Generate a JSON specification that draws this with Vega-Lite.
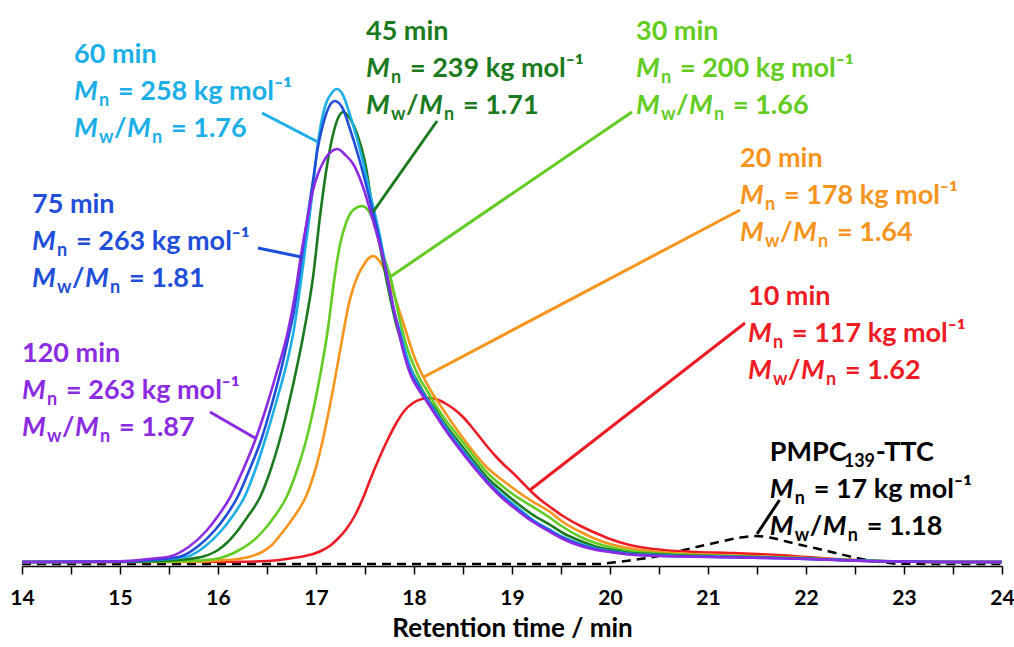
{
"$schema": "https://vega.github.io/schema/vega-lite/v6.json",
"width": 980, "height": 560,
"autosize": {"type": "none"},
"padding": {"left": 22, "top": 6, "right": 12, "bottom": 81},
"background": "white",
"config": {"view": {"stroke": null}, "font": "Lato",
 "axis": {"labelFont": "Lato", "labelFontWeight": "bold", "labelFontSize": 21, "labelColor": "#000", "titleFont": "Lato", "titleFontSize": 26, "titleFontWeight": "bold", "titleColor": "#000", "domainColor": "#000", "domainWidth": 1.5, "tickColor": "#000", "tickWidth": 1.5, "tickSize": 8, "grid": false}},
"datasets": {
"pmpc": [
{"x":14,"y":-2},{"x":19.9,"y":-2},{"x":20.03,"y":-0.5},{"x":20.2,"y":1.5},{"x":20.44,"y":5},{"x":20.6,"y":8.5},{"x":20.78,"y":12.5},{"x":20.95,"y":16.5},{"x":21.16,"y":21},{"x":21.33,"y":24.5},{"x":21.48,"y":26},{"x":21.63,"y":24.5},{"x":21.8,"y":20.5},{"x":21.95,"y":17},{"x":22.11,"y":13.5},{"x":22.3,"y":9},{"x":22.45,"y":5.5},{"x":22.62,"y":2},{"x":22.8,"y":-0.5},{"x":22.95,"y":-1.8},{"x":24,"y":-2}
],
"curves": [
{"s":"10 min","x":14,"y":0},{"s":"10 min","x":16.3,"y":0.3},{"s":"10 min","x":16.5,"y":1},{"s":"10 min","x":16.63,"y":2},{"s":"10 min","x":16.8,"y":4.5},{"s":"10 min","x":16.9,"y":6.3},{"s":"10 min","x":16.97,"y":8},{"s":"10 min","x":17.06,"y":11.5},{"s":"10 min","x":17.14,"y":16},{"s":"10 min","x":17.22,"y":23},{"s":"10 min","x":17.31,"y":33},{"s":"10 min","x":17.4,"y":47},{"s":"10 min","x":17.48,"y":64},{"s":"10 min","x":17.56,"y":84},{"s":"10 min","x":17.65,"y":105},{"s":"10 min","x":17.73,"y":122},{"s":"10 min","x":17.82,"y":139},{"s":"10 min","x":17.9,"y":151},{"s":"10 min","x":17.99,"y":159},{"s":"10 min","x":18.08,"y":163},{"s":"10 min","x":18.16,"y":164},{"s":"10 min","x":18.25,"y":162},{"s":"10 min","x":18.33,"y":158},{"s":"10 min","x":18.42,"y":152},{"s":"10 min","x":18.5,"y":145},{"s":"10 min","x":18.58,"y":136},{"s":"10 min","x":18.67,"y":125},{"s":"10 min","x":18.76,"y":114},{"s":"10 min","x":18.84,"y":105},{"s":"10 min","x":18.92,"y":97},{"s":"10 min","x":19.01,"y":89},{"s":"10 min","x":19.1,"y":80},{"s":"10 min","x":19.18,"y":72},{"s":"10 min","x":19.28,"y":63},{"s":"10 min","x":19.39,"y":55},{"s":"10 min","x":19.52,"y":46},{"s":"10 min","x":19.7,"y":36},{"s":"10 min","x":19.86,"y":28.7},{"s":"10 min","x":20.0,"y":23},{"s":"10 min","x":20.2,"y":17},{"s":"10 min","x":20.54,"y":12},{"s":"10 min","x":20.88,"y":10},{"s":"10 min","x":21.22,"y":9},{"s":"10 min","x":21.5,"y":8},{"s":"10 min","x":21.73,"y":7},{"s":"10 min","x":22.0,"y":5},{"s":"10 min","x":22.3,"y":3},{"s":"10 min","x":22.6,"y":1.5},{"s":"10 min","x":23.0,"y":0.5},{"s":"10 min","x":23.5,"y":0},{"s":"10 min","x":24,"y":0},
{"s":"20 min","x":14,"y":0},{"s":"20 min","x":15.8,"y":0.3},{"s":"20 min","x":16.0,"y":1.5},{"s":"20 min","x":16.2,"y":3},{"s":"20 min","x":16.33,"y":5.5},{"s":"20 min","x":16.45,"y":10},{"s":"20 min","x":16.55,"y":17},{"s":"20 min","x":16.66,"y":30},{"s":"20 min","x":16.78,"y":46},{"s":"20 min","x":16.9,"y":66},{"s":"20 min","x":16.98,"y":88},{"s":"20 min","x":17.06,"y":118},{"s":"20 min","x":17.18,"y":176},{"s":"20 min","x":17.28,"y":230},{"s":"20 min","x":17.33,"y":256},{"s":"20 min","x":17.38,"y":274},{"s":"20 min","x":17.43,"y":287},{"s":"20 min","x":17.48,"y":296},{"s":"20 min","x":17.53,"y":303},{"s":"20 min","x":17.58,"y":306},{"s":"20 min","x":17.64,"y":302},{"s":"20 min","x":17.7,"y":292},{"s":"20 min","x":17.79,"y":269},{"s":"20 min","x":17.86,"y":248},{"s":"20 min","x":17.91,"y":233},{"s":"20 min","x":18.0,"y":206},{"s":"20 min","x":18.09,"y":186},{"s":"20 min","x":18.18,"y":170},{"s":"20 min","x":18.3,"y":152},{"s":"20 min","x":18.44,"y":132},{"s":"20 min","x":18.6,"y":111},{"s":"20 min","x":18.74,"y":95},{"s":"20 min","x":18.9,"y":82},{"s":"20 min","x":19.05,"y":71},{"s":"20 min","x":19.2,"y":61},{"s":"20 min","x":19.39,"y":50},{"s":"20 min","x":19.52,"y":40},{"s":"20 min","x":19.7,"y":30},{"s":"20 min","x":19.86,"y":22.7},{"s":"20 min","x":20.0,"y":18},{"s":"20 min","x":20.2,"y":13.7},{"s":"20 min","x":20.5,"y":10},{"s":"20 min","x":20.71,"y":8.5},{"s":"20 min","x":21.0,"y":7.3},{"s":"20 min","x":21.3,"y":6.3},{"s":"20 min","x":21.73,"y":5},{"s":"20 min","x":22.0,"y":4},{"s":"20 min","x":22.3,"y":2.6},{"s":"20 min","x":22.6,"y":1.4},{"s":"20 min","x":23.0,"y":0.5},{"s":"20 min","x":23.5,"y":0},{"s":"20 min","x":24,"y":0},
{"s":"30 min","x":14,"y":0},{"s":"30 min","x":15.5,"y":0.3},{"s":"30 min","x":15.8,"y":1.5},{"s":"30 min","x":16.0,"y":3.5},{"s":"30 min","x":16.1,"y":6.5},{"s":"30 min","x":16.2,"y":11},{"s":"30 min","x":16.3,"y":17},{"s":"30 min","x":16.38,"y":23},{"s":"30 min","x":16.46,"y":31},{"s":"30 min","x":16.58,"y":46},{"s":"30 min","x":16.7,"y":65},{"s":"30 min","x":16.8,"y":90},{"s":"30 min","x":16.9,"y":122},{"s":"30 min","x":17.02,"y":175},{"s":"30 min","x":17.12,"y":232},{"s":"30 min","x":17.19,"y":285},{"s":"30 min","x":17.24,"y":315},{"s":"30 min","x":17.31,"y":340},{"s":"30 min","x":17.38,"y":352},{"s":"30 min","x":17.47,"y":356},{"s":"30 min","x":17.53,"y":352},{"s":"30 min","x":17.58,"y":343},{"s":"30 min","x":17.64,"y":325},{"s":"30 min","x":17.69,"y":306},{"s":"30 min","x":17.76,"y":285},{"s":"30 min","x":17.86,"y":240},{"s":"30 min","x":17.93,"y":214},{"s":"30 min","x":18.0,"y":196},{"s":"30 min","x":18.06,"y":183},{"s":"30 min","x":18.13,"y":172},{"s":"30 min","x":18.2,"y":160},{"s":"30 min","x":18.3,"y":145},{"s":"30 min","x":18.44,"y":127},{"s":"30 min","x":18.6,"y":107},{"s":"30 min","x":18.74,"y":90},{"s":"30 min","x":18.9,"y":76},{"s":"30 min","x":19.05,"y":65},{"s":"30 min","x":19.2,"y":56},{"s":"30 min","x":19.39,"y":44},{"s":"30 min","x":19.52,"y":35},{"s":"30 min","x":19.7,"y":25},{"s":"30 min","x":19.86,"y":18.7},{"s":"30 min","x":20.0,"y":15},{"s":"30 min","x":20.2,"y":11.3},{"s":"30 min","x":20.5,"y":8.5},{"s":"30 min","x":20.71,"y":7.5},{"s":"30 min","x":21.0,"y":6.5},{"s":"30 min","x":21.3,"y":5.7},{"s":"30 min","x":21.73,"y":4.5},{"s":"30 min","x":22.0,"y":3.6},{"s":"30 min","x":22.3,"y":2.4},{"s":"30 min","x":22.6,"y":1.3},{"s":"30 min","x":23.0,"y":0.5},{"s":"30 min","x":23.5,"y":0},{"s":"30 min","x":24,"y":0},
{"s":"45 min","x":14,"y":0},{"s":"45 min","x":15.2,"y":0.3},{"s":"45 min","x":15.5,"y":1.5},{"s":"45 min","x":15.7,"y":3},{"s":"45 min","x":15.85,"y":5.5},{"s":"45 min","x":16.0,"y":12},{"s":"45 min","x":16.1,"y":20},{"s":"45 min","x":16.19,"y":30},{"s":"45 min","x":16.3,"y":45},{"s":"45 min","x":16.43,"y":65},{"s":"45 min","x":16.53,"y":90},{"s":"45 min","x":16.63,"y":122},{"s":"45 min","x":16.75,"y":170},{"s":"45 min","x":16.88,"y":232},{"s":"45 min","x":16.97,"y":285},{"s":"45 min","x":17.04,"y":345},{"s":"45 min","x":17.11,"y":395},{"s":"45 min","x":17.18,"y":430},{"s":"45 min","x":17.23,"y":445},{"s":"45 min","x":17.28,"y":450},{"s":"45 min","x":17.35,"y":443},{"s":"45 min","x":17.42,"y":428},{"s":"45 min","x":17.5,"y":400},{"s":"45 min","x":17.58,"y":352},{"s":"45 min","x":17.66,"y":312},{"s":"45 min","x":17.74,"y":272},{"s":"45 min","x":17.82,"y":237},{"s":"45 min","x":17.9,"y":212},{"s":"45 min","x":17.97,"y":193},{"s":"45 min","x":18.05,"y":178},{"s":"45 min","x":18.12,"y":166},{"s":"45 min","x":18.2,"y":155},{"s":"45 min","x":18.3,"y":140},{"s":"45 min","x":18.44,"y":122},{"s":"45 min","x":18.6,"y":102},{"s":"45 min","x":18.74,"y":85},{"s":"45 min","x":18.9,"y":71},{"s":"45 min","x":19.05,"y":59},{"s":"45 min","x":19.2,"y":48},{"s":"45 min","x":19.39,"y":37},{"s":"45 min","x":19.52,"y":29},{"s":"45 min","x":19.7,"y":21},{"s":"45 min","x":19.86,"y":15.3},{"s":"45 min","x":20.0,"y":12.5},{"s":"45 min","x":20.2,"y":9.3},{"s":"45 min","x":20.5,"y":7.5},{"s":"45 min","x":20.71,"y":6.5},{"s":"45 min","x":21.0,"y":6},{"s":"45 min","x":21.3,"y":5.3},{"s":"45 min","x":21.73,"y":4.3},{"s":"45 min","x":22.0,"y":3.5},{"s":"45 min","x":22.3,"y":2.3},{"s":"45 min","x":22.6,"y":1.2},{"s":"45 min","x":23.0,"y":0.5},{"s":"45 min","x":23.5,"y":0},{"s":"45 min","x":24,"y":0},
{"s":"60 min","x":14,"y":0},{"s":"60 min","x":15.0,"y":0.3},{"s":"60 min","x":15.35,"y":2},{"s":"60 min","x":15.68,"y":5.3},{"s":"60 min","x":15.86,"y":15},{"s":"60 min","x":16.04,"y":32},{"s":"60 min","x":16.15,"y":46},{"s":"60 min","x":16.27,"y":65},{"s":"60 min","x":16.38,"y":92},{"s":"60 min","x":16.48,"y":122},{"s":"60 min","x":16.6,"y":162},{"s":"60 min","x":16.7,"y":198},{"s":"60 min","x":16.77,"y":230},{"s":"60 min","x":16.82,"y":262},{"s":"60 min","x":16.87,"y":298},{"s":"60 min","x":16.92,"y":335},{"s":"60 min","x":16.97,"y":375},{"s":"60 min","x":17.01,"y":412},{"s":"60 min","x":17.05,"y":438},{"s":"60 min","x":17.1,"y":458},{"s":"60 min","x":17.16,"y":469},{"s":"60 min","x":17.21,"y":473},{"s":"60 min","x":17.27,"y":468},{"s":"60 min","x":17.35,"y":446},{"s":"60 min","x":17.42,"y":423},{"s":"60 min","x":17.48,"y":400},{"s":"60 min","x":17.56,"y":365},{"s":"60 min","x":17.65,"y":327},{"s":"60 min","x":17.73,"y":285},{"s":"60 min","x":17.8,"y":250},{"s":"60 min","x":17.86,"y":230},{"s":"60 min","x":17.92,"y":208},{"s":"60 min","x":17.98,"y":190},{"s":"60 min","x":18.05,"y":176},{"s":"60 min","x":18.12,"y":165},{"s":"60 min","x":18.2,"y":153},{"s":"60 min","x":18.3,"y":138},{"s":"60 min","x":18.44,"y":119},{"s":"60 min","x":18.6,"y":99},{"s":"60 min","x":18.74,"y":82},{"s":"60 min","x":18.9,"y":67},{"s":"60 min","x":19.05,"y":55},{"s":"60 min","x":19.2,"y":43},{"s":"60 min","x":19.39,"y":32},{"s":"60 min","x":19.52,"y":25},{"s":"60 min","x":19.7,"y":18},{"s":"60 min","x":19.86,"y":13.5},{"s":"60 min","x":20.0,"y":11},{"s":"60 min","x":20.2,"y":8.3},{"s":"60 min","x":20.5,"y":6.8},{"s":"60 min","x":20.71,"y":6},{"s":"60 min","x":21.0,"y":5.5},{"s":"60 min","x":21.3,"y":5},{"s":"60 min","x":21.73,"y":4},{"s":"60 min","x":22.0,"y":3.2},{"s":"60 min","x":22.3,"y":2.2},{"s":"60 min","x":22.6,"y":1.2},{"s":"60 min","x":23.0,"y":0.5},{"s":"60 min","x":23.5,"y":0},{"s":"60 min","x":24,"y":0},
{"s":"75 min","x":14,"y":0},{"s":"75 min","x":15.0,"y":0.4},{"s":"75 min","x":15.3,"y":2},{"s":"75 min","x":15.61,"y":5.3},{"s":"75 min","x":15.8,"y":16},{"s":"75 min","x":15.97,"y":32},{"s":"75 min","x":16.08,"y":46},{"s":"75 min","x":16.2,"y":65},{"s":"75 min","x":16.32,"y":92},{"s":"75 min","x":16.44,"y":122},{"s":"75 min","x":16.55,"y":158},{"s":"75 min","x":16.65,"y":195},{"s":"75 min","x":16.73,"y":230},{"s":"75 min","x":16.77,"y":248},{"s":"75 min","x":16.82,"y":280},{"s":"75 min","x":16.87,"y":315},{"s":"75 min","x":16.92,"y":349},{"s":"75 min","x":16.97,"y":382},{"s":"75 min","x":17.02,"y":415},{"s":"75 min","x":17.06,"y":433},{"s":"75 min","x":17.11,"y":450},{"s":"75 min","x":17.19,"y":461},{"s":"75 min","x":17.27,"y":454},{"s":"75 min","x":17.35,"y":432},{"s":"75 min","x":17.42,"y":410},{"s":"75 min","x":17.48,"y":389},{"s":"75 min","x":17.56,"y":358},{"s":"75 min","x":17.65,"y":322},{"s":"75 min","x":17.73,"y":283},{"s":"75 min","x":17.8,"y":248},{"s":"75 min","x":17.85,"y":230},{"s":"75 min","x":17.9,"y":209},{"s":"75 min","x":17.97,"y":188},{"s":"75 min","x":18.05,"y":174},{"s":"75 min","x":18.12,"y":163},{"s":"75 min","x":18.2,"y":151},{"s":"75 min","x":18.3,"y":136},{"s":"75 min","x":18.44,"y":117},{"s":"75 min","x":18.6,"y":97},{"s":"75 min","x":18.74,"y":81},{"s":"75 min","x":18.9,"y":65},{"s":"75 min","x":19.05,"y":53},{"s":"75 min","x":19.2,"y":42},{"s":"75 min","x":19.39,"y":31},{"s":"75 min","x":19.52,"y":24},{"s":"75 min","x":19.7,"y":17},{"s":"75 min","x":19.86,"y":12.7},{"s":"75 min","x":20.0,"y":10.5},{"s":"75 min","x":20.2,"y":7.8},{"s":"75 min","x":20.5,"y":6.3},{"s":"75 min","x":20.71,"y":5.7},{"s":"75 min","x":21.0,"y":5.2},{"s":"75 min","x":21.3,"y":4.7},{"s":"75 min","x":21.73,"y":3.8},{"s":"75 min","x":22.0,"y":3.1},{"s":"75 min","x":22.3,"y":2.1},{"s":"75 min","x":22.6,"y":1.1},{"s":"75 min","x":23.0,"y":0.4},{"s":"75 min","x":23.5,"y":0},{"s":"75 min","x":24,"y":0},
{"s":"120 min","x":14,"y":0},{"s":"120 min","x":14.8,"y":0.3},{"s":"120 min","x":15.0,"y":0.8},{"s":"120 min","x":15.2,"y":2},{"s":"120 min","x":15.35,"y":3.5},{"s":"120 min","x":15.51,"y":5.5},{"s":"120 min","x":15.7,"y":15},{"s":"120 min","x":15.88,"y":31},{"s":"120 min","x":16.0,"y":46},{"s":"120 min","x":16.12,"y":64},{"s":"120 min","x":16.25,"y":91},{"s":"120 min","x":16.38,"y":122},{"s":"120 min","x":16.5,"y":157},{"s":"120 min","x":16.6,"y":190},{"s":"120 min","x":16.7,"y":225},{"s":"120 min","x":16.75,"y":248},{"s":"120 min","x":16.8,"y":276},{"s":"120 min","x":16.85,"y":309},{"s":"120 min","x":16.91,"y":342},{"s":"120 min","x":16.97,"y":372},{"s":"120 min","x":17.02,"y":388},{"s":"120 min","x":17.07,"y":399},{"s":"120 min","x":17.15,"y":410},{"s":"120 min","x":17.22,"y":413},{"s":"120 min","x":17.3,"y":407},{"s":"120 min","x":17.38,"y":398},{"s":"120 min","x":17.48,"y":375},{"s":"120 min","x":17.58,"y":342},{"s":"120 min","x":17.69,"y":302},{"s":"120 min","x":17.79,"y":255},{"s":"120 min","x":17.84,"y":232},{"s":"120 min","x":17.9,"y":207},{"s":"120 min","x":17.97,"y":186},{"s":"120 min","x":18.05,"y":172},{"s":"120 min","x":18.12,"y":162},{"s":"120 min","x":18.2,"y":150},{"s":"120 min","x":18.3,"y":135},{"s":"120 min","x":18.44,"y":116},{"s":"120 min","x":18.6,"y":96},{"s":"120 min","x":18.74,"y":80},{"s":"120 min","x":18.9,"y":64},{"s":"120 min","x":19.05,"y":52},{"s":"120 min","x":19.2,"y":41},{"s":"120 min","x":19.39,"y":30},{"s":"120 min","x":19.52,"y":23},{"s":"120 min","x":19.7,"y":16},{"s":"120 min","x":19.86,"y":12},{"s":"120 min","x":20.0,"y":10},{"s":"120 min","x":20.2,"y":7.5},{"s":"120 min","x":20.5,"y":6},{"s":"120 min","x":20.71,"y":5.5},{"s":"120 min","x":21.0,"y":5},{"s":"120 min","x":21.3,"y":4.5},{"s":"120 min","x":21.73,"y":3.7},{"s":"120 min","x":22.0,"y":3},{"s":"120 min","x":22.3,"y":2},{"s":"120 min","x":22.6,"y":1},{"s":"120 min","x":23.0,"y":0.4},{"s":"120 min","x":23.5,"y":0},{"s":"120 min","x":24,"y":0}
],
"conn": [
{"s":"60 min","x":16.449,"y":449,"x2":17.02,"y2":420},
{"s":"75 min","x":16.408,"y":314,"x2":16.85,"y2":305},
{"s":"120 min","x":15.918,"y":150,"x2":16.378,"y2":124},
{"s":"45 min","x":18.235,"y":441,"x2":17.582,"y2":350},
{"s":"30 min","x":20.224,"y":450,"x2":17.755,"y2":285},
{"s":"20 min","x":21.327,"y":352,"x2":18.1,"y2":185},
{"s":"10 min","x":21.378,"y":239,"x2":19.184,"y2":72},
{"s":"PMPC","x":21.5,"y":28,"x2":21.73,"y2":62}
],
"labels": [
{"s":"60 min","t":"60 min","ts":"","tr":"","mn":"= 258 kg mol⁻¹","pdi":"= 1.76","x":14.531,"y":499},
{"s":"75 min","t":"75 min","ts":"","tr":"","mn":"= 263 kg mol⁻¹","pdi":"= 1.81","x":14.102,"y":349},
{"s":"120 min","t":"120 min","ts":"","tr":"","mn":"= 263 kg mol⁻¹","pdi":"= 1.87","x":14.0,"y":200},
{"s":"45 min","t":"45 min","ts":"","tr":"","mn":"= 239 kg mol⁻¹","pdi":"= 1.71","x":17.51,"y":522},
{"s":"30 min","t":"30 min","ts":"","tr":"","mn":"= 200 kg mol⁻¹","pdi":"= 1.66","x":20.265,"y":522},
{"s":"20 min","t":"20 min","ts":"","tr":"","mn":"= 178 kg mol⁻¹","pdi":"= 1.64","x":21.327,"y":395},
{"s":"10 min","t":"10 min","ts":"","tr":"","mn":"= 117 kg mol⁻¹","pdi":"= 1.62","x":21.408,"y":257},
{"s":"PMPC","t":"PMPC","ts":"139","tr":"-TTC","mn":"= 17 kg mol⁻¹","pdi":"= 1.18","x":21.63,"y":101}
]
},
"encoding": {
 "x": {"field": "x", "type": "quantitative", "scale": {"domain": [14, 24], "nice": false, "zero": false},
  "axis": {"values": [14,14.5,15,15.5,16,16.5,17,17.5,18,18.5,19,19.5,20,20.5,21,21.5,22,22.5,23,23.5,24], "labelExpr": "datum.value % 1 === 0 ? format(datum.value, 'd') : ''", "labelPadding": 13, "titlePadding": 7, "labelFlush": false, "labelOverlap": false},
  "title": "Retention time / min"},
 "y": {"field": "y", "type": "quantitative", "scale": {"domain": [-4, 556], "nice": false, "zero": false}, "axis": null}
},
"layer": [
 {"data": {"name": "pmpc"}, "mark": {"type": "line", "color": "#000", "strokeWidth": 2.5, "strokeDash": [9, 6], "interpolate": "monotone"}},
 {"data": {"name": "curves"}, "mark": {"type": "line", "strokeWidth": 2.6, "interpolate": "monotone"},
  "encoding": {"color": {"field": "s", "type": "nominal", "legend": null, "sort": null, "scale": {"domain": ["10 min","20 min","30 min","45 min","60 min","75 min","120 min","PMPC"], "range": ["#ED1C24","#F7941D","#62CC22","#1B7A1E","#1CAEE6","#1F4ED8","#8B2BE2","#000000"]}}}},
 {"data": {"name": "conn"}, "mark": {"type": "rule", "strokeWidth": 3},
  "encoding": {"x2": {"field": "x2"}, "y2": {"field": "y2"}, "color": {"field": "s", "type": "nominal", "legend": null}}},
 {"data": {"name": "labels"}, "mark": {"type": "text", "font": "Lato", "fontWeight": "bold", "fontSize": 27, "align": "left", "baseline": "alphabetic"},
  "encoding": {"text": {"field": "t"}, "color": {"field": "s", "type": "nominal", "legend": null}}},
 {"data": {"name": "labels"}, "mark": {"type": "text", "font": "Lato", "fontWeight": "bold", "fontSize": 18, "align": "left", "baseline": "alphabetic", "dx": 74, "dy": 6},
  "encoding": {"text": {"field": "ts"}, "color": {"field": "s", "type": "nominal", "legend": null}}},
 {"data": {"name": "labels"}, "mark": {"type": "text", "font": "Lato", "fontWeight": "bold", "fontSize": 27, "align": "left", "baseline": "alphabetic", "dx": 106},
  "encoding": {"text": {"field": "tr"}, "color": {"field": "s", "type": "nominal", "legend": null}}},
 {"data": {"name": "labels"}, "mark": {"type": "text", "text": "M", "font": "Lato", "fontWeight": "bold", "fontStyle": "italic", "fontSize": 27, "align": "left", "baseline": "alphabetic", "dy": 37},
  "encoding": {"color": {"field": "s", "type": "nominal", "legend": null}}},
 {"data": {"name": "labels"}, "mark": {"type": "text", "text": "n", "font": "Lato", "fontWeight": "bold", "fontSize": 18, "align": "left", "baseline": "alphabetic", "dx": 25, "dy": 43},
  "encoding": {"color": {"field": "s", "type": "nominal", "legend": null}}},
 {"data": {"name": "labels"}, "mark": {"type": "text", "font": "Lato", "fontWeight": "bold", "fontSize": 27, "align": "left", "baseline": "alphabetic", "dx": 44, "dy": 37},
  "encoding": {"text": {"field": "mn"}, "color": {"field": "s", "type": "nominal", "legend": null}}},
 {"data": {"name": "labels"}, "mark": {"type": "text", "text": "M", "font": "Lato", "fontWeight": "bold", "fontStyle": "italic", "fontSize": 27, "align": "left", "baseline": "alphabetic", "dy": 74},
  "encoding": {"color": {"field": "s", "type": "nominal", "legend": null}}},
 {"data": {"name": "labels"}, "mark": {"type": "text", "text": "w", "font": "Lato", "fontWeight": "bold", "fontSize": 18, "align": "left", "baseline": "alphabetic", "dx": 25, "dy": 80},
  "encoding": {"color": {"field": "s", "type": "nominal", "legend": null}}},
 {"data": {"name": "labels"}, "mark": {"type": "text", "text": "/", "font": "Lato", "fontWeight": "bold", "fontSize": 27, "align": "left", "baseline": "alphabetic", "dx": 40, "dy": 74},
  "encoding": {"color": {"field": "s", "type": "nominal", "legend": null}}},
 {"data": {"name": "labels"}, "mark": {"type": "text", "text": "M", "font": "Lato", "fontWeight": "bold", "fontStyle": "italic", "fontSize": 27, "align": "left", "baseline": "alphabetic", "dx": 53, "dy": 74},
  "encoding": {"color": {"field": "s", "type": "nominal", "legend": null}}},
 {"data": {"name": "labels"}, "mark": {"type": "text", "text": "n", "font": "Lato", "fontWeight": "bold", "fontSize": 18, "align": "left", "baseline": "alphabetic", "dx": 78, "dy": 80},
  "encoding": {"color": {"field": "s", "type": "nominal", "legend": null}}},
 {"data": {"name": "labels"}, "mark": {"type": "text", "font": "Lato", "fontWeight": "bold", "fontSize": 27, "align": "left", "baseline": "alphabetic", "dx": 97, "dy": 74},
  "encoding": {"text": {"field": "pdi"}, "color": {"field": "s", "type": "nominal", "legend": null}}}
]
}
